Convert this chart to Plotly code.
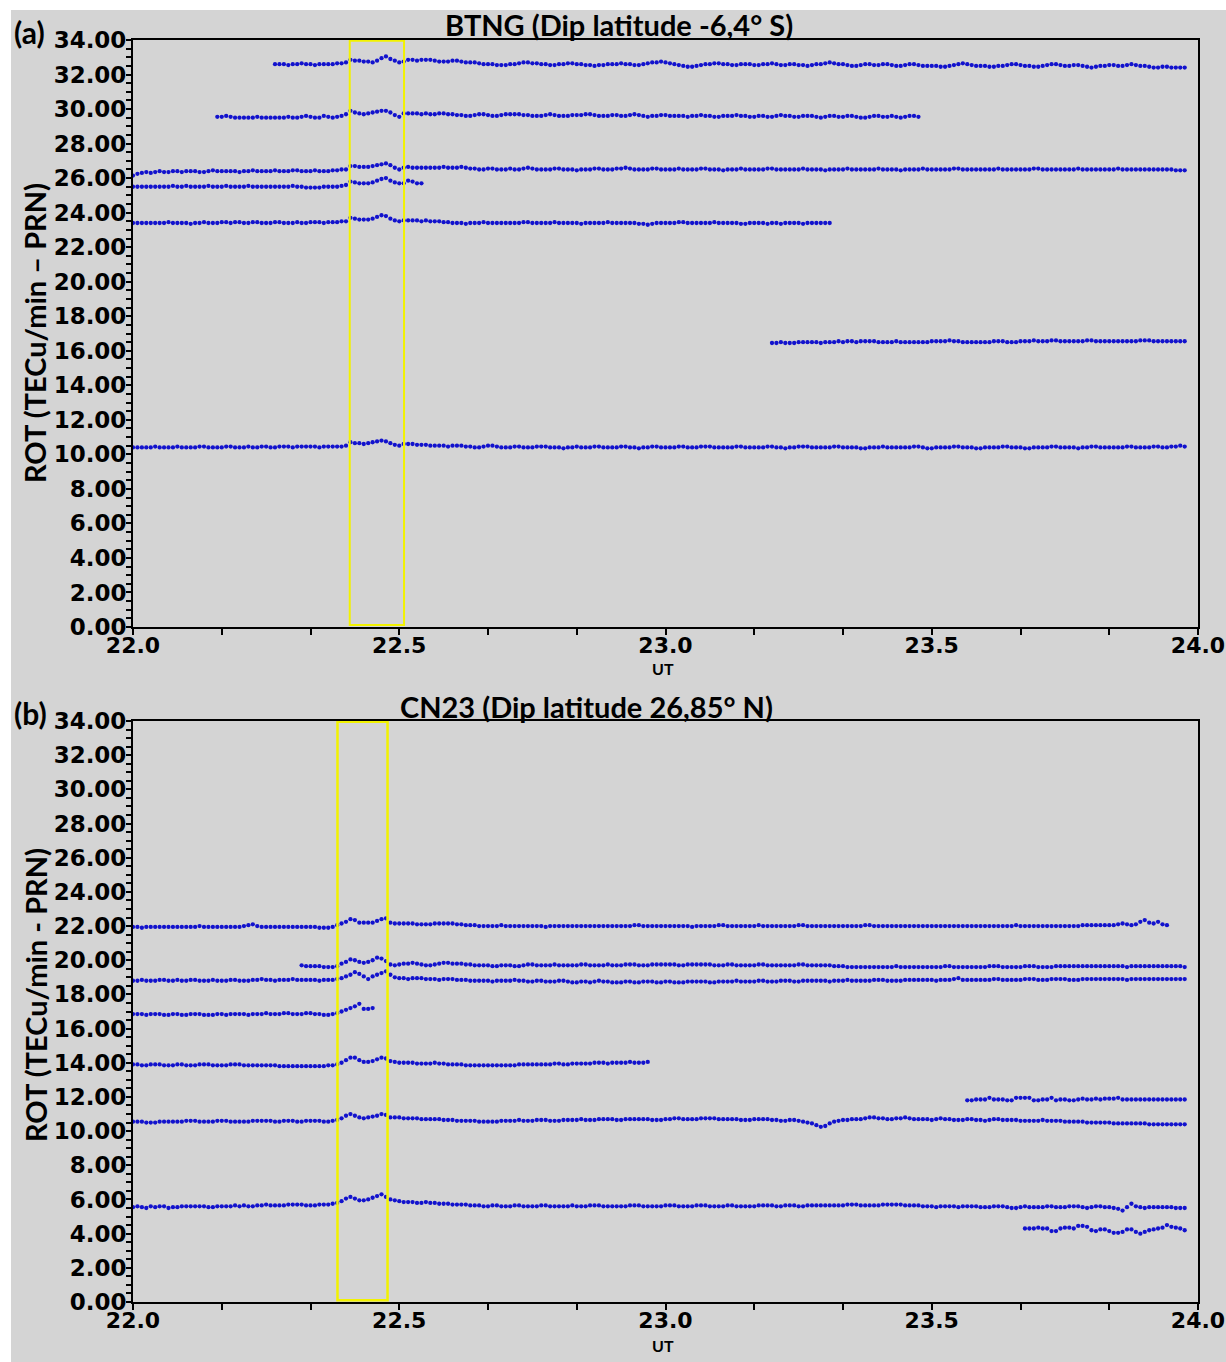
import plotly.graph_objects as go

# ---------------- data ----------------
T0 = 22.0            # UT hours at first sample
STEP_H = 1.0 / 120.0 # 30-s sampling, in hours

# Panel (a) BTNG : first-sample index of each PRN series
a_start = [32, 19, 0, 0, 0, 144, 0]
a1 = [32.6,32.6,32.6,32.55,32.6,32.6,32.65,32.6,32.6,32.55,32.6,32.6,32.6,32.6,32.65,32.65,32.7,
      32.85,32.8,32.8,32.75,32.75,32.7,32.8,32.95,33.05,32.9,32.8,32.7,32.75,
      32.85,32.85,32.8,32.85,32.85,32.85,32.8,32.75,32.75,32.75,32.8,32.8,32.75,32.7,32.7,32.7,32.65,32.6,32.6,32.6,32.55,32.55,
      32.55,32.6,32.6,32.65,32.7,32.7,32.65,32.65,32.6,32.6,32.55,32.55,32.6,32.6,
      32.65,32.65,32.6,32.6,32.55,32.55,32.5,32.55,32.55,32.6,32.6,32.6,32.65,32.6,
      32.6,32.55,32.55,32.6,32.65,32.7,32.7,32.75,32.7,32.65,32.6,32.55,32.5,32.45,
      32.45,32.5,32.55,32.6,32.6,32.65,32.65,32.6,32.6,32.55,32.55,32.6,32.6,32.6,
      32.55,32.55,32.6,32.6,32.65,32.6,32.55,32.55,32.6,32.6,32.55,32.55,32.5,32.55,
      32.6,32.6,32.65,32.7,32.65,32.6,32.6,32.55,32.5,32.5,32.55,32.6,32.6,32.55,
      32.55,32.6,32.6,32.55,32.5,32.5,32.55,32.6,32.6,32.55,32.5,32.5,32.5,32.5,
      32.45,32.45,32.5,32.55,32.6,32.65,32.6,32.55,32.5,32.5,32.5,32.45,32.45,32.5,
      32.5,32.55,32.6,32.6,32.55,32.5,32.5,32.45,32.45,32.5,32.55,32.6,32.6,32.55,
      32.5,32.5,32.55,32.55,32.5,32.45,32.4,32.45,32.5,32.5,32.55,32.55,32.5,32.5,
      32.55,32.6,32.55,32.5,32.5,32.45,32.4,32.4,32.45,32.45,32.4,32.4,32.4,32.4]
a2 = [29.55,29.55,29.6,29.55,29.5,29.5,29.5,29.5,29.5,29.55,29.5,29.5,29.5,29.5,29.5,29.5,29.55,29.5,29.5,29.55,
      29.6,29.55,29.5,29.5,29.6,29.55,29.5,29.55,29.6,29.7,
      29.9,29.8,29.75,29.7,29.75,29.8,29.85,29.9,29.9,29.8,29.65,29.55,29.75,
      29.75,29.75,29.75,29.7,29.75,29.7,29.7,29.75,29.75,29.7,29.7,29.65,29.65,29.6,29.6,
      29.65,29.7,29.7,29.65,29.6,29.6,29.65,29.7,29.7,29.7,29.7,29.65,29.65,29.6,29.6,
      29.6,29.65,29.7,29.65,29.6,29.6,29.6,29.65,29.65,29.65,29.7,29.7,29.65,29.6,29.6,
      29.6,29.65,29.65,29.6,29.6,29.65,29.7,29.65,29.6,29.55,29.6,29.6,29.65,29.65,29.6,
      29.6,29.6,29.6,29.55,29.6,29.6,29.65,29.6,29.6,29.55,29.55,29.6,29.6,29.6,29.65,
      29.6,29.6,29.55,29.55,29.6,29.6,29.55,29.55,29.6,29.65,29.6,29.6,29.55,29.55,29.6,
      29.6,29.6,29.55,29.5,29.55,29.6,29.6,29.55,29.55,29.6,29.6,29.55,29.5,29.5,29.55,
      29.6,29.6,29.55,29.55,29.6,29.55,29.5,29.55,29.6,29.6,29.55]
a3 = [26.15,26.25,26.3,26.35,26.3,26.35,26.4,26.35,26.35,26.4,26.4,26.35,26.4,26.4,26.4,26.35,26.35,26.4,26.45,26.4,
      26.4,26.4,26.4,26.4,26.35,26.4,26.4,26.45,26.4,26.4,26.4,26.4,26.45,26.4,26.4,26.4,26.45,26.45,26.4,26.4,
      26.4,26.45,26.4,26.4,26.4,26.45,26.45,26.5,26.5,
      26.7,26.7,26.65,26.65,26.65,26.7,26.75,26.8,26.85,26.75,26.6,26.5,26.6,
      26.65,26.6,26.6,26.6,26.6,26.6,26.6,26.6,26.65,26.6,26.6,26.6,26.65,26.6,26.55,26.55,
      26.5,26.5,26.55,26.55,26.5,26.5,26.5,26.55,26.5,26.5,26.55,26.6,26.55,26.5,26.5,26.5,
      26.5,26.55,26.55,26.5,26.5,26.5,26.45,26.5,26.5,26.5,26.55,26.55,26.5,26.5,26.5,26.55,
      26.55,26.6,26.55,26.5,26.5,26.5,26.5,26.55,26.55,26.5,26.5,26.5,26.5,26.55,26.5,26.5,
      26.5,26.5,26.55,26.55,26.5,26.5,26.5,26.45,26.5,26.5,26.5,26.55,26.5,26.5,26.5,26.5,
      26.5,26.55,26.55,26.5,26.5,26.5,26.5,26.5,26.5,26.55,26.5,26.5,26.5,26.5,26.45,26.5,
      26.5,26.5,26.5,26.55,26.5,26.5,26.5,26.5,26.5,26.5,26.55,26.5,26.5,26.5,26.5,26.45,
      26.5,26.5,26.5,26.5,26.55,26.5,26.5,26.5,26.5,26.5,26.5,26.55,26.55,26.5,26.5,26.5,
      26.5,26.5,26.5,26.5,26.5,26.55,26.5,26.5,26.5,26.5,26.5,26.5,26.5,26.55,26.55,26.5,
      26.5,26.5,26.5,26.5,26.5,26.5,26.5,26.55,26.5,26.5,26.5,26.5,26.5,26.5,26.5,26.5,
      26.55,26.5,26.5,26.5,26.5,26.5,26.5,26.5,26.5,26.5,26.5,26.5,26.5,26.45,26.45,26.45]
a4 = [25.5,25.5,25.5,25.5,25.5,25.5,25.5,25.5,25.5,25.55,25.5,25.5,25.55,25.5,25.5,25.5,25.5,25.55,25.5,25.5,
      25.5,25.55,25.5,25.5,25.5,25.5,25.55,25.5,25.5,25.5,25.5,25.5,25.5,25.5,25.5,25.5,25.55,25.5,25.5,25.45,
      25.45,25.45,25.45,25.5,25.5,25.5,25.5,25.55,25.6,
      25.8,25.75,25.7,25.7,25.7,25.75,25.85,25.95,26.0,25.85,25.75,25.7,25.7,
      25.85,25.8,25.7,25.7]
a5 = [23.4,23.4,23.4,23.4,23.4,23.4,23.4,23.4,23.45,23.4,23.4,23.4,23.4,23.35,23.4,23.4,23.45,23.4,23.4,23.4,
      23.45,23.45,23.4,23.45,23.45,23.4,23.4,23.45,23.45,23.4,23.4,23.4,23.45,23.45,23.4,23.4,23.4,23.45,23.4,23.4,
      23.45,23.45,23.45,23.4,23.45,23.45,23.45,23.5,23.5,
      23.7,23.65,23.6,23.6,23.6,23.65,23.75,23.85,23.8,23.65,23.55,23.5,23.55,
      23.55,23.55,23.55,23.5,23.55,23.5,23.5,23.5,23.45,23.45,23.4,23.4,
      23.4,23.35,23.4,23.4,23.4,23.45,23.4,23.4,23.4,23.4,23.4,23.4,
      23.4,23.4,23.45,23.45,23.4,23.4,23.4,23.4,23.4,23.45,23.4,23.4,
      23.4,23.4,23.4,23.35,23.4,23.4,23.4,23.4,23.4,23.45,23.4,23.4,
      23.4,23.4,23.4,23.4,23.35,23.35,23.3,23.35,23.4,23.4,23.4,23.4,
      23.4,23.45,23.45,23.4,23.4,23.4,23.4,23.4,23.4,23.45,23.4,23.4,
      23.4,23.4,23.4,23.35,23.35,23.4,23.4,23.4,23.4,23.35,23.4,23.4,
      23.35,23.4,23.4,23.4,23.4,23.35,23.4,23.4,23.4,23.4,23.4,23.4]
a6 = [16.45,16.45,16.5,16.45,16.45,16.45,16.5,16.5,16.5,16.5,16.5,16.45,16.5,16.5,16.5,16.55,16.5,16.55,16.55,16.5,
      16.55,16.55,16.55,16.55,16.5,16.5,16.5,16.5,16.55,16.5,16.5,16.5,16.5,16.5,16.5,16.5,16.55,16.55,16.55,16.55,
      16.6,16.55,16.55,16.5,16.5,16.5,16.5,16.5,16.5,16.5,16.55,16.55,16.55,16.5,16.5,16.5,16.55,16.55,16.55,16.6,
      16.55,16.55,16.55,16.6,16.6,16.55,16.55,16.55,16.55,16.55,16.55,16.6,16.6,16.55,16.55,16.55,16.55,16.55,16.55,16.55,
      16.55,16.55,16.55,16.6,16.6,16.6,16.55,16.55,16.55,16.55,16.55,16.55,16.55,16.55]
a7 = [10.4,10.4,10.4,10.4,10.4,10.45,10.4,10.4,10.4,10.4,10.45,10.4,10.4,10.4,10.4,10.45,10.45,10.4,10.4,10.4,
      10.4,10.45,10.45,10.4,10.4,10.4,10.45,10.4,10.4,10.45,10.45,10.4,10.4,10.45,10.45,10.45,10.4,10.45,10.45,10.45,
      10.45,10.45,10.4,10.45,10.45,10.45,10.45,10.45,10.5,
      10.7,10.65,10.65,10.6,10.65,10.7,10.75,10.8,10.75,10.65,10.55,10.5,10.6,
      10.6,10.6,10.55,10.55,10.55,10.5,10.5,10.5,10.5,10.45,10.5,10.5,10.5,10.45,10.45,10.4,
      10.4,10.45,10.5,10.5,10.45,10.4,10.4,10.4,10.45,10.45,10.4,10.4,10.4,10.45,10.45,10.45,
      10.4,10.4,10.4,10.35,10.4,10.4,10.45,10.4,10.4,10.4,10.45,10.45,10.4,10.4,10.4,10.4,
      10.45,10.45,10.4,10.4,10.35,10.4,10.4,10.45,10.45,10.4,10.4,10.4,10.4,10.45,10.45,10.4,
      10.4,10.4,10.45,10.45,10.45,10.4,10.4,10.4,10.4,10.4,10.45,10.45,10.4,10.4,10.4,10.4,
      10.4,10.45,10.45,10.4,10.4,10.35,10.4,10.4,10.45,10.45,10.45,10.4,10.4,10.4,10.4,10.4,
      10.45,10.45,10.4,10.4,10.4,10.4,10.35,10.35,10.4,10.4,10.4,10.45,10.4,10.4,10.4,10.4,
      10.4,10.4,10.45,10.45,10.4,10.35,10.35,10.4,10.4,10.4,10.4,10.45,10.45,10.4,10.4,10.4,
      10.35,10.35,10.4,10.4,10.4,10.4,10.45,10.45,10.4,10.4,10.4,10.35,10.35,10.4,10.4,10.4,
      10.4,10.45,10.45,10.4,10.4,10.4,10.4,10.35,10.4,10.4,10.45,10.45,10.4,10.4,10.4,10.4,
      10.4,10.4,10.45,10.45,10.4,10.4,10.4,10.4,10.45,10.45,10.4,10.4,10.45,10.45,10.5,10.45]

# Panel (b) CN23
b_start = [0, 38, 0, 0, 0, 188, 0, 0, 201]
b1 = [21.95,21.95,21.9,21.95,21.95,21.95,21.95,21.95,21.95,21.95,21.95,21.95,21.95,21.95,21.95,22.0,21.95,21.95,21.95,21.95,
      21.95,21.95,21.95,21.95,21.95,22.0,22.05,22.1,22.0,21.95,21.95,21.95,21.95,21.95,21.95,21.95,21.95,21.95,21.95,21.95,
      21.95,21.95,21.9,21.9,21.9,21.95,
      22.05,22.15,22.25,22.4,22.35,22.2,22.2,22.2,22.2,22.3,22.4,22.45,22.2,
      22.15,22.15,22.15,22.15,22.15,22.1,22.1,22.1,22.1,22.15,22.15,22.15,22.15,22.15,22.1,22.1,22.05,22.05,22.05,22.0,22.0,22.0,22.0,22.0,22.05,
      22.0,22.0,22.0,22.0,22.0,22.0,22.0,22.0,22.0,21.95,22.0,22.0,22.0,22.0,22.0,22.0,22.0,22.0,22.0,22.0,22.0,22.0,22.0,22.0,22.0,
      22.0,22.0,22.0,22.0,22.05,22.05,22.0,22.0,22.0,22.0,22.0,22.0,22.0,22.0,22.0,22.0,22.0,21.95,22.0,22.0,22.0,22.0,22.0,22.05,22.05,
      22.0,22.0,22.0,22.0,22.0,22.0,22.0,22.05,22.0,22.0,22.0,22.0,22.0,22.0,22.0,22.0,22.05,22.05,22.0,22.0,22.0,22.0,22.0,22.0,22.0,
      22.0,22.0,22.0,22.0,22.0,22.0,22.05,22.05,22.0,22.0,22.0,22.0,22.0,22.0,22.0,22.0,22.0,22.0,22.0,22.0,22.0,22.0,22.0,22.0,22.0,
      22.0,22.0,22.0,22.0,22.0,22.0,22.0,22.0,22.0,22.0,22.0,22.0,22.0,22.0,22.0,22.05,22.0,22.0,22.0,22.0,22.0,22.0,22.0,22.0,22.0,
      22.0,22.0,22.0,22.0,22.0,22.05,22.05,22.05,22.05,22.05,22.05,22.05,22.05,22.1,22.15,22.1,22.05,22.1,22.25,22.35,22.2,22.15,22.25,22.1,22.05]
b2 = [19.7,19.65,19.65,19.65,19.65,19.6,19.6,19.6,19.65,
      19.8,19.9,20.05,20.0,19.9,19.85,19.9,20.0,20.15,20.1,19.95,19.75,
      19.7,19.75,19.8,19.8,19.85,19.8,19.75,19.7,19.7,19.75,19.8,19.85,19.85,19.8,19.8,19.8,19.75,19.75,19.7,19.7,
      19.7,19.7,19.65,19.65,19.7,19.7,19.7,19.65,19.65,19.7,19.75,19.75,19.7,19.7,19.7,19.7,19.75,19.7,19.7,19.7,
      19.7,19.7,19.75,19.75,19.7,19.7,19.7,19.7,19.75,19.7,19.7,19.7,19.75,19.75,19.75,19.7,19.7,19.7,19.75,19.75,
      19.75,19.75,19.75,19.75,19.7,19.7,19.75,19.75,19.75,19.75,19.75,19.75,19.7,19.7,19.7,19.75,19.75,19.7,19.7,19.7,
      19.7,19.7,19.75,19.75,19.7,19.7,19.7,19.7,19.7,19.7,19.7,19.75,19.75,19.7,19.7,19.7,19.7,19.7,19.7,19.65,
      19.65,19.65,19.6,19.6,19.6,19.6,19.6,19.6,19.6,19.6,19.6,19.6,19.6,19.65,19.6,19.6,19.6,19.6,19.6,19.6,
      19.6,19.6,19.6,19.6,19.65,19.65,19.6,19.6,19.6,19.6,19.6,19.6,19.6,19.6,19.65,19.65,19.65,19.6,19.6,19.6,
      19.6,19.6,19.65,19.65,19.65,19.6,19.6,19.6,19.6,19.65,19.65,19.65,19.65,19.65,19.65,19.65,19.65,19.65,19.65,19.65,
      19.65,19.65,19.65,19.65,19.65,19.6,19.65,19.65,19.65,19.65,19.65,19.65,19.65,19.65,19.65,19.65,19.65,19.65,19.6]
b3 = [18.8,18.8,18.85,18.8,18.8,18.8,18.85,18.85,18.8,18.8,18.85,18.8,18.8,18.85,18.85,18.8,18.8,18.8,18.85,18.8,
      18.8,18.8,18.85,18.85,18.8,18.8,18.8,18.85,18.85,18.9,18.85,18.85,18.8,18.85,18.85,18.85,18.9,18.85,18.85,18.85,
      18.85,18.85,18.8,18.85,18.85,18.85,18.9,
      18.95,19.05,19.15,19.3,19.2,19.05,18.9,19.05,19.15,19.25,19.35,19.15,
      19.0,18.95,18.95,18.9,18.95,18.95,18.95,18.9,18.9,18.9,18.85,18.9,18.9,18.9,18.85,18.85,18.85,18.8,18.8,18.8,
      18.8,18.8,18.75,18.8,18.8,18.8,18.8,18.85,18.8,18.8,18.75,18.75,18.8,18.8,18.75,18.75,18.75,18.8,18.8,18.75,
      18.7,18.7,18.75,18.75,18.7,18.75,18.8,18.75,18.75,18.7,18.7,18.7,18.75,18.75,18.7,18.7,18.75,18.75,18.75,18.7,
      18.7,18.75,18.75,18.7,18.7,18.7,18.75,18.75,18.75,18.75,18.75,18.7,18.7,18.75,18.75,18.75,18.75,18.8,18.75,18.75,
      18.75,18.75,18.8,18.8,18.75,18.75,18.75,18.8,18.8,18.8,18.75,18.75,18.8,18.8,18.8,18.8,18.8,18.8,18.75,18.8,
      18.8,18.8,18.85,18.8,18.8,18.8,18.8,18.8,18.85,18.85,18.85,18.8,18.8,18.8,18.8,18.85,18.85,18.85,18.85,18.85,
      18.85,18.85,18.8,18.85,18.85,18.85,18.9,18.95,18.85,18.85,18.85,18.85,18.85,18.85,18.85,18.9,18.9,18.85,18.85,18.85,
      18.85,18.85,18.9,18.9,18.9,18.85,18.85,18.85,18.9,18.9,18.9,18.9,18.85,18.85,18.85,18.9,18.9,18.9,18.9,18.9,
      18.9,18.9,18.9,18.9,18.9,18.85,18.9,18.9,18.9,18.9,18.9,18.9,18.9,18.9,18.9,18.9,18.9,18.9,18.9]
b4 = [16.85,16.85,16.85,16.8,16.85,16.85,16.85,16.8,16.8,16.85,16.85,16.8,16.8,16.85,16.85,16.85,16.8,16.8,16.8,16.85,
      16.85,16.8,16.85,16.85,16.85,16.85,16.8,16.85,16.85,16.85,16.9,16.85,16.85,16.85,16.9,16.9,16.85,16.85,16.85,16.9,
      16.9,16.85,16.85,16.8,16.8,16.85,16.9,
      17.0,17.1,17.2,17.3,17.45,17.15,17.15,17.2]
b5 = [13.9,13.9,13.85,13.85,13.9,13.9,13.9,13.85,13.85,13.85,13.9,13.9,13.85,13.85,13.85,13.9,13.9,13.9,13.85,13.85,
      13.85,13.85,13.9,13.9,13.9,13.85,13.85,13.85,13.85,13.85,13.85,13.85,13.85,13.8,13.8,13.8,13.8,13.8,13.8,13.8,
      13.8,13.8,13.8,13.8,13.85,13.85,13.9,
      14.0,14.15,14.3,14.3,14.15,14.05,14.05,14.1,14.2,14.3,14.25,14.1,
      14.05,14.0,14.0,14.0,14.0,13.95,13.95,13.95,13.95,14.0,13.95,13.95,13.9,13.9,13.9,13.9,13.85,13.85,13.85,13.85,
      13.85,13.85,13.85,13.85,13.85,13.85,13.85,13.85,13.9,13.9,13.9,13.9,13.9,13.9,13.9,13.9,13.95,13.95,13.9,13.9,
      13.95,13.95,13.95,13.95,13.95,14.0,14.0,14.0,13.95,14.0,14.0,14.0,14.0,14.05,14.0,14.0,14.0,14.05]
b6 = [11.8,11.8,11.85,11.85,11.85,11.95,11.85,11.85,11.85,11.8,11.8,11.95,11.95,11.95,11.95,11.8,11.8,11.85,11.85,11.95,
      11.8,11.85,11.85,11.8,11.8,11.85,11.9,11.85,11.85,11.9,11.85,11.9,11.9,11.9,11.95,11.85,11.85,11.85,11.85,11.85,
      11.85,11.85,11.85,11.85,11.85,11.85,11.85,11.85,11.85,11.85]
b7 = [10.55,10.55,10.55,10.5,10.5,10.5,10.55,10.55,10.55,10.55,10.55,10.55,10.6,10.6,10.6,10.55,10.55,10.55,10.55,10.6,
      10.6,10.6,10.55,10.55,10.55,10.55,10.55,10.6,10.6,10.6,10.6,10.6,10.55,10.55,10.6,10.6,10.6,10.55,10.55,10.6,
      10.6,10.6,10.6,10.55,10.55,10.6,10.65,
      10.75,10.9,11.0,10.9,10.8,10.75,10.8,10.85,10.9,11.0,10.95,10.8,
      10.8,10.8,10.75,10.75,10.75,10.75,10.7,10.7,10.7,10.7,10.7,10.65,10.65,10.65,10.6,10.6,10.6,10.6,10.6,10.55,
      10.55,10.55,10.55,10.55,10.6,10.6,10.6,10.6,10.65,10.6,10.6,10.6,10.65,10.65,10.65,10.6,10.6,10.6,10.65,10.65,
      10.65,10.65,10.7,10.65,10.65,10.65,10.7,10.7,10.7,10.7,10.65,10.65,10.7,10.7,10.7,10.7,10.7,10.7,10.65,10.65,
      10.65,10.7,10.7,10.75,10.75,10.7,10.7,10.7,10.7,10.75,10.75,10.75,10.75,10.7,10.7,10.7,10.7,10.7,10.65,10.65,
      10.65,10.7,10.7,10.7,10.7,10.65,10.65,10.6,10.6,10.65,10.65,10.6,10.55,10.5,10.45,10.35,10.25,10.3,10.45,10.55,
      10.6,10.65,10.65,10.7,10.7,10.7,10.75,10.8,10.8,10.75,10.75,10.7,10.7,10.75,10.75,10.8,10.75,10.7,10.7,10.7,
      10.7,10.65,10.7,10.75,10.7,10.7,10.65,10.65,10.65,10.7,10.7,10.65,10.65,10.6,10.65,10.7,10.7,10.65,10.65,10.65,
      10.65,10.6,10.6,10.6,10.6,10.6,10.65,10.6,10.6,10.6,10.6,10.55,10.55,10.55,10.55,10.55,10.5,10.5,10.5,10.5,
      10.5,10.5,10.45,10.45,10.45,10.45,10.45,10.45,10.45,10.45,10.4,10.4,10.4,10.4,10.4,10.4,10.4,10.4,10.4]
b8 = [5.55,5.6,5.55,5.5,5.6,5.55,5.6,5.6,5.5,5.55,5.55,5.6,5.6,5.6,5.6,5.6,5.6,5.55,5.55,5.6,
      5.6,5.6,5.6,5.65,5.6,5.65,5.6,5.6,5.65,5.65,5.7,5.65,5.65,5.65,5.65,5.7,5.7,5.7,5.7,5.65,
      5.65,5.65,5.7,5.7,5.7,5.75,5.8,
      5.9,6.05,6.15,6.05,5.95,5.95,6.0,6.1,6.2,6.3,6.15,6.0,
      5.95,5.9,5.85,5.85,5.85,5.8,5.8,5.85,5.8,5.8,5.75,5.75,5.75,5.7,5.7,5.7,5.7,5.65,5.65,5.65,
      5.6,5.6,5.65,5.65,5.6,5.6,5.6,5.65,5.65,5.6,5.6,5.6,5.6,5.65,5.65,5.6,5.6,5.6,5.6,5.6,
      5.65,5.6,5.6,5.6,5.65,5.65,5.65,5.6,5.6,5.6,5.6,5.6,5.6,5.65,5.65,5.65,5.6,5.6,5.6,5.6,
      5.6,5.65,5.65,5.65,5.6,5.6,5.6,5.6,5.65,5.65,5.65,5.6,5.6,5.6,5.6,5.65,5.65,5.6,5.6,5.6,
      5.6,5.6,5.65,5.65,5.65,5.65,5.6,5.6,5.65,5.65,5.65,5.6,5.6,5.65,5.65,5.65,5.65,5.65,5.65,5.65,
      5.65,5.65,5.7,5.7,5.7,5.65,5.65,5.65,5.65,5.65,5.7,5.7,5.7,5.7,5.7,5.65,5.65,5.65,5.65,5.6,
      5.6,5.6,5.55,5.6,5.6,5.6,5.6,5.55,5.6,5.6,5.6,5.6,5.55,5.55,5.55,5.6,5.6,5.6,5.55,5.5,
      5.5,5.55,5.6,5.55,5.55,5.55,5.55,5.6,5.6,5.55,5.55,5.55,5.6,5.6,5.6,5.55,5.5,5.55,5.6,5.6,
      5.55,5.55,5.5,5.45,5.35,5.55,5.75,5.6,5.55,5.5,5.55,5.55,5.55,5.55,5.55,5.55,5.5,5.5,5.5]
b9 = [4.3,4.3,4.3,4.35,4.3,4.3,4.15,4.15,4.3,4.35,4.35,4.3,4.45,4.45,4.4,4.2,4.15,4.25,4.25,4.15,
      4.05,4.05,4.1,4.25,4.25,4.1,4.0,4.1,4.2,4.25,4.3,4.35,4.5,4.4,4.35,4.3,4.2]

a_series = [a1, a2, a3, a4, a5, a6, a7]
b_series = [b1, b2, b3, b4, b5, b6, b7, b8, b9]

# highlighted windows (UT hours)
hl_a = [22.407, 22.509]
hl_b = [22.384, 22.478]

title_a = "BTNG (Dip latitude -6,4° S)"
title_b = "CN23 (Dip latitude 26,85° N)"
ytitle_a = "ROT (TECu/min – PRN)"
ytitle_b = "ROT (TECu/min - PRN)"

# ---------------- figure ----------------
W, H = 1226, 1362
L, R, T, B = 133, 28, 40, 60
PW, PH = W - L - R, H - T - B
GRAY = "#d4d4d4"
DOT = "rgb(18,18,205)"


def px(xp):
    return (xp - L) / PW


def py(yp):
    return (H - B - yp) / PH


fig = go.Figure()
for start, vals in zip(a_start, a_series):
    xs = [T0 + (start + k) * STEP_H for k in range(len(vals))]
    fig.add_trace(go.Scatter(x=xs, y=vals, mode="markers", xaxis="x", yaxis="y",
                             marker=dict(size=4.3, color=DOT), showlegend=False))
for start, vals in zip(b_start, b_series):
    xs = [T0 + (start + k) * STEP_H for k in range(len(vals))]
    fig.add_trace(go.Scatter(x=xs, y=vals, mode="markers", xaxis="x2", yaxis="y2",
                             marker=dict(size=4.3, color=DOT), showlegend=False))

tickfont = dict(family="DejaVu Sans", size=22, color="black", weight="bold")
common_x = dict(range=[22.0, 24.0], dtick=0.5, tick0=22.0, tickformat=".1f",
                showline=True, linecolor="black", linewidth=2, mirror=True,
                ticks="outside", ticklen=6, tickwidth=1.5, tickcolor="black",
                ticklabelstandoff=-8, automargin=False,
                minor=dict(dtick=1/6, tick0=22.0, ticks="outside", ticklen=6,
                           tickwidth=1.5, tickcolor="black", showgrid=False),
                showgrid=False, zeroline=False, tickfont=tickfont)
common_y = dict(range=[0, 34], dtick=2, tick0=0, tickformat=".2f",
                showline=True, linecolor="black", linewidth=2, mirror=True,
                ticks="outside", ticklen=5, tickwidth=1.5, tickcolor="black",
                ticklabelstandoff=-5, automargin=False,
                minor=dict(dtick=0.5, ticks="outside", ticklen=5, tickwidth=1.5,
                           tickcolor="black", showgrid=False),
                showgrid=False, zeroline=False, tickfont=dict(tickfont, size=23))

ya_bottom = py(627)
yb_top = py(721)

fig.update_layout(
    width=W, height=H, margin=dict(l=L, r=R, t=T, b=B, autoexpand=False),
    paper_bgcolor="white", plot_bgcolor=GRAY,
    xaxis=dict(common_x, domain=[0, 1], anchor="y"),
    yaxis=dict(common_y, domain=[ya_bottom, 1], anchor="x"),
    xaxis2=dict(common_x, domain=[0, 1], anchor="y2"),
    yaxis2=dict(common_y, domain=[0, yb_top], anchor="x2"),
)

shapes = [
    dict(type="rect", xref="paper", yref="paper", x0=px(11), x1=px(1240),
         y0=py(1380), y1=py(10), fillcolor=GRAY, line=dict(width=0), layer="below"),
    dict(type="rect", xref="x", yref="y", x0=hl_a[0], x1=hl_a[1], y0=0.12, y1=33.95,
         line=dict(color="#f2f200", width=2), layer="above"),
    dict(type="rect", xref="x2", yref="y2", x0=hl_b[0], x1=hl_b[1], y0=0.1, y1=33.95,
         line=dict(color="#f2f200", width=2.5), layer="above"),
]
fig.update_layout(shapes=shapes)

hfont = dict(family="Lato", size=29, color="black", weight="bold")
ann = [
    dict(text=title_a, x=px(619), y=py(25), font=hfont),
    dict(text=title_b, x=px(586), y=py(706), font=hfont),
    dict(text="(a)", x=px(29), y=py(32), font=dict(hfont, size=30)),
    dict(text="(b)", x=px(30), y=py(713), font=dict(hfont, size=30)),
    dict(text=ytitle_a, x=px(35), y=py(333), textangle=-90, font=dict(hfont, size=29)),
    dict(text=ytitle_b, x=px(35), y=py(995), textangle=-90, font=dict(hfont, size=29)),
    dict(text="UT", x=px(663), y=py(668), font=dict(hfont, size=16)),
    dict(text="UT", x=px(663), y=py(1345), font=dict(hfont, size=16)),
]
for a in ann:
    a.update(xref="paper", yref="paper", xanchor="center", yanchor="middle", showarrow=False)
fig.update_layout(annotations=ann)

fig.write_html("out.html", config={"displayModeBar": False, "responsive": False},
               post_script="document.body.style.margin='0';document.body.style.padding='0';")
